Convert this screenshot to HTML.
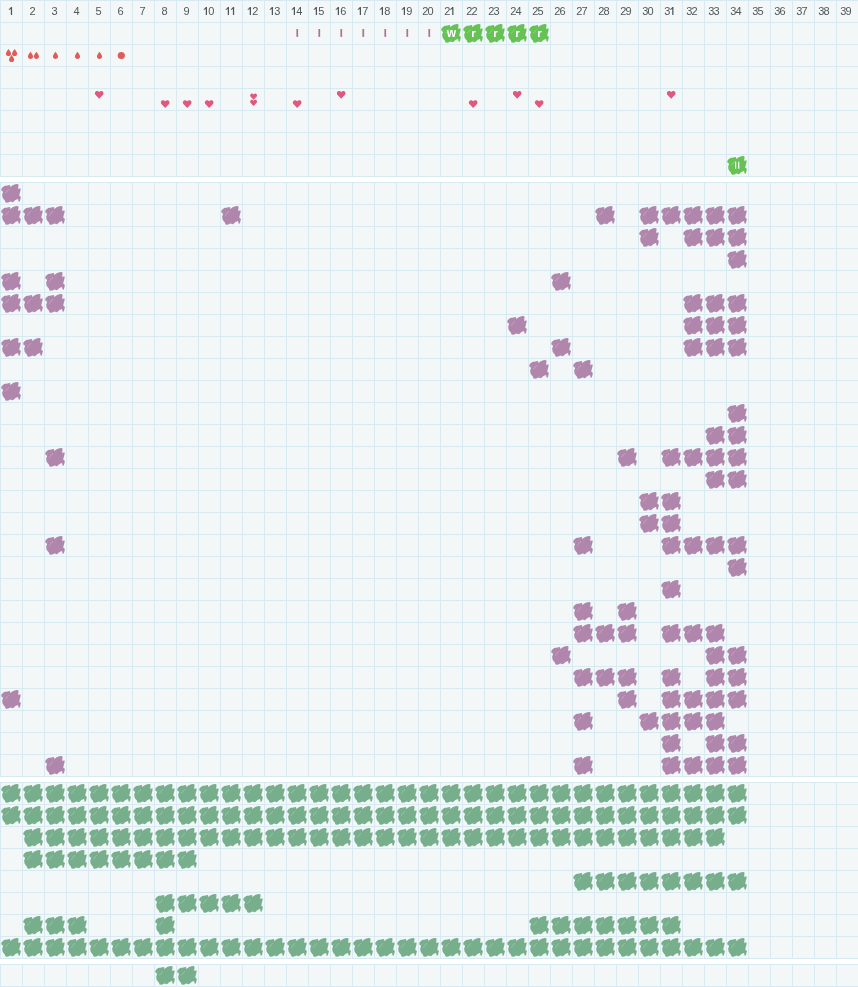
<!DOCTYPE html>
<html><head><meta charset="utf-8"><title>grid</title>
<style>
html,body{margin:0;padding:0;background:#fff;width:858px;height:987px;overflow:hidden;font-family:"Liberation Sans",sans-serif;}
</style></head><body>
<svg width="858" height="987" viewBox="0 0 858 987" style="display:block;will-change:transform"><defs><symbol id="b" viewBox="0 0 858 858"><path d="M50,290 L60,250 L90,215 L130,185 L160,160 L200,150 L240,150 L290,140 L330,125 L370,120 L395,130 L405,205 L430,180 L480,140 L540,110 L600,90 L660,80 L715,85 L722,130 L715,200 L700,250 L740,262 L790,240 L805,262 L800,330 L780,400 L760,480 L752,540 L800,570 L815,600 L800,640 L790,700 L770,762 L740,772 L720,750 L715,700 L700,662 L650,680 L600,700 L560,740 L520,780 L470,790 L430,762 L380,772 L330,800 L260,812 L220,800 L200,760 L190,720 L160,690 L130,650 L100,600 L90,540 L85,480 L110,430 L120,390 L95,362 L60,340 L48,300 Z"/><path d="M200,455 L345,282" stroke="#fff" stroke-opacity=".5" stroke-width="20" fill="none"/><path d="M122,350 L152,305" stroke="#fff" stroke-opacity=".35" stroke-width="18" fill="none"/><path d="M425,742 L462,700" stroke="#fff" stroke-opacity=".2" stroke-width="16" fill="none"/></symbol></defs><rect width="858" height="987" fill="#fff"/><rect x="0" y="0" width="858" height="177" fill="#f4f7f8"/><rect x="0" y="0" width="858" height="1" fill="#d7e9f1"/><rect x="0" y="22" width="858" height="1" fill="#d7e9f1"/><rect x="0" y="44" width="858" height="1" fill="#d7e9f1"/><rect x="0" y="66" width="858" height="1" fill="#d7e9f1"/><rect x="0" y="88" width="858" height="1" fill="#d7e9f1"/><rect x="0" y="110" width="858" height="1" fill="#d7e9f1"/><rect x="0" y="132" width="858" height="1" fill="#d7e9f1"/><rect x="0" y="154" width="858" height="1" fill="#d7e9f1"/><rect x="0" y="176" width="858" height="1" fill="#d7e9f1"/><rect x="0" y="0" width="1" height="177" fill="#d7e9f1"/><rect x="22" y="0" width="1" height="177" fill="#d7e9f1"/><rect x="44" y="0" width="1" height="177" fill="#d7e9f1"/><rect x="66" y="0" width="1" height="177" fill="#d7e9f1"/><rect x="88" y="0" width="1" height="177" fill="#d7e9f1"/><rect x="110" y="0" width="1" height="177" fill="#d7e9f1"/><rect x="132" y="0" width="1" height="177" fill="#d7e9f1"/><rect x="154" y="0" width="1" height="177" fill="#d7e9f1"/><rect x="176" y="0" width="1" height="177" fill="#d7e9f1"/><rect x="198" y="0" width="1" height="177" fill="#d7e9f1"/><rect x="220" y="0" width="1" height="177" fill="#d7e9f1"/><rect x="242" y="0" width="1" height="177" fill="#d7e9f1"/><rect x="264" y="0" width="1" height="177" fill="#d7e9f1"/><rect x="286" y="0" width="1" height="177" fill="#d7e9f1"/><rect x="308" y="0" width="1" height="177" fill="#d7e9f1"/><rect x="330" y="0" width="1" height="177" fill="#d7e9f1"/><rect x="352" y="0" width="1" height="177" fill="#d7e9f1"/><rect x="374" y="0" width="1" height="177" fill="#d7e9f1"/><rect x="396" y="0" width="1" height="177" fill="#d7e9f1"/><rect x="418" y="0" width="1" height="177" fill="#d7e9f1"/><rect x="440" y="0" width="1" height="177" fill="#d7e9f1"/><rect x="462" y="0" width="1" height="177" fill="#d7e9f1"/><rect x="484" y="0" width="1" height="177" fill="#d7e9f1"/><rect x="506" y="0" width="1" height="177" fill="#d7e9f1"/><rect x="528" y="0" width="1" height="177" fill="#d7e9f1"/><rect x="550" y="0" width="1" height="177" fill="#d7e9f1"/><rect x="572" y="0" width="1" height="177" fill="#d7e9f1"/><rect x="594" y="0" width="1" height="177" fill="#d7e9f1"/><rect x="616" y="0" width="1" height="177" fill="#d7e9f1"/><rect x="638" y="0" width="1" height="177" fill="#d7e9f1"/><rect x="660" y="0" width="1" height="177" fill="#d7e9f1"/><rect x="682" y="0" width="1" height="177" fill="#d7e9f1"/><rect x="704" y="0" width="1" height="177" fill="#d7e9f1"/><rect x="726" y="0" width="1" height="177" fill="#d7e9f1"/><rect x="748" y="0" width="1" height="177" fill="#d7e9f1"/><rect x="770" y="0" width="1" height="177" fill="#d7e9f1"/><rect x="792" y="0" width="1" height="177" fill="#d7e9f1"/><rect x="814" y="0" width="1" height="177" fill="#d7e9f1"/><rect x="836" y="0" width="1" height="177" fill="#d7e9f1"/><rect x="0" y="182" width="858" height="595" fill="#f4f7f8"/><rect x="0" y="182" width="858" height="1" fill="#d7e9f1"/><rect x="0" y="204" width="858" height="1" fill="#d7e9f1"/><rect x="0" y="226" width="858" height="1" fill="#d7e9f1"/><rect x="0" y="248" width="858" height="1" fill="#d7e9f1"/><rect x="0" y="270" width="858" height="1" fill="#d7e9f1"/><rect x="0" y="292" width="858" height="1" fill="#d7e9f1"/><rect x="0" y="314" width="858" height="1" fill="#d7e9f1"/><rect x="0" y="336" width="858" height="1" fill="#d7e9f1"/><rect x="0" y="358" width="858" height="1" fill="#d7e9f1"/><rect x="0" y="380" width="858" height="1" fill="#d7e9f1"/><rect x="0" y="402" width="858" height="1" fill="#d7e9f1"/><rect x="0" y="424" width="858" height="1" fill="#d7e9f1"/><rect x="0" y="446" width="858" height="1" fill="#d7e9f1"/><rect x="0" y="468" width="858" height="1" fill="#d7e9f1"/><rect x="0" y="490" width="858" height="1" fill="#d7e9f1"/><rect x="0" y="512" width="858" height="1" fill="#d7e9f1"/><rect x="0" y="534" width="858" height="1" fill="#d7e9f1"/><rect x="0" y="556" width="858" height="1" fill="#d7e9f1"/><rect x="0" y="578" width="858" height="1" fill="#d7e9f1"/><rect x="0" y="600" width="858" height="1" fill="#d7e9f1"/><rect x="0" y="622" width="858" height="1" fill="#d7e9f1"/><rect x="0" y="644" width="858" height="1" fill="#d7e9f1"/><rect x="0" y="666" width="858" height="1" fill="#d7e9f1"/><rect x="0" y="688" width="858" height="1" fill="#d7e9f1"/><rect x="0" y="710" width="858" height="1" fill="#d7e9f1"/><rect x="0" y="732" width="858" height="1" fill="#d7e9f1"/><rect x="0" y="754" width="858" height="1" fill="#d7e9f1"/><rect x="0" y="776" width="858" height="1" fill="#d7e9f1"/><rect x="0" y="182" width="1" height="595" fill="#d7e9f1"/><rect x="22" y="182" width="1" height="595" fill="#d7e9f1"/><rect x="44" y="182" width="1" height="595" fill="#d7e9f1"/><rect x="66" y="182" width="1" height="595" fill="#d7e9f1"/><rect x="88" y="182" width="1" height="595" fill="#d7e9f1"/><rect x="110" y="182" width="1" height="595" fill="#d7e9f1"/><rect x="132" y="182" width="1" height="595" fill="#d7e9f1"/><rect x="154" y="182" width="1" height="595" fill="#d7e9f1"/><rect x="176" y="182" width="1" height="595" fill="#d7e9f1"/><rect x="198" y="182" width="1" height="595" fill="#d7e9f1"/><rect x="220" y="182" width="1" height="595" fill="#d7e9f1"/><rect x="242" y="182" width="1" height="595" fill="#d7e9f1"/><rect x="264" y="182" width="1" height="595" fill="#d7e9f1"/><rect x="286" y="182" width="1" height="595" fill="#d7e9f1"/><rect x="308" y="182" width="1" height="595" fill="#d7e9f1"/><rect x="330" y="182" width="1" height="595" fill="#d7e9f1"/><rect x="352" y="182" width="1" height="595" fill="#d7e9f1"/><rect x="374" y="182" width="1" height="595" fill="#d7e9f1"/><rect x="396" y="182" width="1" height="595" fill="#d7e9f1"/><rect x="418" y="182" width="1" height="595" fill="#d7e9f1"/><rect x="440" y="182" width="1" height="595" fill="#d7e9f1"/><rect x="462" y="182" width="1" height="595" fill="#d7e9f1"/><rect x="484" y="182" width="1" height="595" fill="#d7e9f1"/><rect x="506" y="182" width="1" height="595" fill="#d7e9f1"/><rect x="528" y="182" width="1" height="595" fill="#d7e9f1"/><rect x="550" y="182" width="1" height="595" fill="#d7e9f1"/><rect x="572" y="182" width="1" height="595" fill="#d7e9f1"/><rect x="594" y="182" width="1" height="595" fill="#d7e9f1"/><rect x="616" y="182" width="1" height="595" fill="#d7e9f1"/><rect x="638" y="182" width="1" height="595" fill="#d7e9f1"/><rect x="660" y="182" width="1" height="595" fill="#d7e9f1"/><rect x="682" y="182" width="1" height="595" fill="#d7e9f1"/><rect x="704" y="182" width="1" height="595" fill="#d7e9f1"/><rect x="726" y="182" width="1" height="595" fill="#d7e9f1"/><rect x="748" y="182" width="1" height="595" fill="#d7e9f1"/><rect x="770" y="182" width="1" height="595" fill="#d7e9f1"/><rect x="792" y="182" width="1" height="595" fill="#d7e9f1"/><rect x="814" y="182" width="1" height="595" fill="#d7e9f1"/><rect x="836" y="182" width="1" height="595" fill="#d7e9f1"/><rect x="0" y="782" width="858" height="177" fill="#f4f7f8"/><rect x="0" y="782" width="858" height="1" fill="#d7e9f1"/><rect x="0" y="804" width="858" height="1" fill="#d7e9f1"/><rect x="0" y="826" width="858" height="1" fill="#d7e9f1"/><rect x="0" y="848" width="858" height="1" fill="#d7e9f1"/><rect x="0" y="870" width="858" height="1" fill="#d7e9f1"/><rect x="0" y="892" width="858" height="1" fill="#d7e9f1"/><rect x="0" y="914" width="858" height="1" fill="#d7e9f1"/><rect x="0" y="936" width="858" height="1" fill="#d7e9f1"/><rect x="0" y="958" width="858" height="1" fill="#d7e9f1"/><rect x="0" y="782" width="1" height="177" fill="#d7e9f1"/><rect x="22" y="782" width="1" height="177" fill="#d7e9f1"/><rect x="44" y="782" width="1" height="177" fill="#d7e9f1"/><rect x="66" y="782" width="1" height="177" fill="#d7e9f1"/><rect x="88" y="782" width="1" height="177" fill="#d7e9f1"/><rect x="110" y="782" width="1" height="177" fill="#d7e9f1"/><rect x="132" y="782" width="1" height="177" fill="#d7e9f1"/><rect x="154" y="782" width="1" height="177" fill="#d7e9f1"/><rect x="176" y="782" width="1" height="177" fill="#d7e9f1"/><rect x="198" y="782" width="1" height="177" fill="#d7e9f1"/><rect x="220" y="782" width="1" height="177" fill="#d7e9f1"/><rect x="242" y="782" width="1" height="177" fill="#d7e9f1"/><rect x="264" y="782" width="1" height="177" fill="#d7e9f1"/><rect x="286" y="782" width="1" height="177" fill="#d7e9f1"/><rect x="308" y="782" width="1" height="177" fill="#d7e9f1"/><rect x="330" y="782" width="1" height="177" fill="#d7e9f1"/><rect x="352" y="782" width="1" height="177" fill="#d7e9f1"/><rect x="374" y="782" width="1" height="177" fill="#d7e9f1"/><rect x="396" y="782" width="1" height="177" fill="#d7e9f1"/><rect x="418" y="782" width="1" height="177" fill="#d7e9f1"/><rect x="440" y="782" width="1" height="177" fill="#d7e9f1"/><rect x="462" y="782" width="1" height="177" fill="#d7e9f1"/><rect x="484" y="782" width="1" height="177" fill="#d7e9f1"/><rect x="506" y="782" width="1" height="177" fill="#d7e9f1"/><rect x="528" y="782" width="1" height="177" fill="#d7e9f1"/><rect x="550" y="782" width="1" height="177" fill="#d7e9f1"/><rect x="572" y="782" width="1" height="177" fill="#d7e9f1"/><rect x="594" y="782" width="1" height="177" fill="#d7e9f1"/><rect x="616" y="782" width="1" height="177" fill="#d7e9f1"/><rect x="638" y="782" width="1" height="177" fill="#d7e9f1"/><rect x="660" y="782" width="1" height="177" fill="#d7e9f1"/><rect x="682" y="782" width="1" height="177" fill="#d7e9f1"/><rect x="704" y="782" width="1" height="177" fill="#d7e9f1"/><rect x="726" y="782" width="1" height="177" fill="#d7e9f1"/><rect x="748" y="782" width="1" height="177" fill="#d7e9f1"/><rect x="770" y="782" width="1" height="177" fill="#d7e9f1"/><rect x="792" y="782" width="1" height="177" fill="#d7e9f1"/><rect x="814" y="782" width="1" height="177" fill="#d7e9f1"/><rect x="836" y="782" width="1" height="177" fill="#d7e9f1"/><rect x="0" y="964" width="858" height="23" fill="#f4f7f8"/><rect x="0" y="964" width="858" height="1" fill="#d7e9f1"/><rect x="0" y="986" width="858" height="1" fill="#d7e9f1"/><rect x="0" y="964" width="1" height="23" fill="#d7e9f1"/><rect x="22" y="964" width="1" height="23" fill="#d7e9f1"/><rect x="44" y="964" width="1" height="23" fill="#d7e9f1"/><rect x="66" y="964" width="1" height="23" fill="#d7e9f1"/><rect x="88" y="964" width="1" height="23" fill="#d7e9f1"/><rect x="110" y="964" width="1" height="23" fill="#d7e9f1"/><rect x="132" y="964" width="1" height="23" fill="#d7e9f1"/><rect x="154" y="964" width="1" height="23" fill="#d7e9f1"/><rect x="176" y="964" width="1" height="23" fill="#d7e9f1"/><rect x="198" y="964" width="1" height="23" fill="#d7e9f1"/><rect x="220" y="964" width="1" height="23" fill="#d7e9f1"/><rect x="242" y="964" width="1" height="23" fill="#d7e9f1"/><rect x="264" y="964" width="1" height="23" fill="#d7e9f1"/><rect x="286" y="964" width="1" height="23" fill="#d7e9f1"/><rect x="308" y="964" width="1" height="23" fill="#d7e9f1"/><rect x="330" y="964" width="1" height="23" fill="#d7e9f1"/><rect x="352" y="964" width="1" height="23" fill="#d7e9f1"/><rect x="374" y="964" width="1" height="23" fill="#d7e9f1"/><rect x="396" y="964" width="1" height="23" fill="#d7e9f1"/><rect x="418" y="964" width="1" height="23" fill="#d7e9f1"/><rect x="440" y="964" width="1" height="23" fill="#d7e9f1"/><rect x="462" y="964" width="1" height="23" fill="#d7e9f1"/><rect x="484" y="964" width="1" height="23" fill="#d7e9f1"/><rect x="506" y="964" width="1" height="23" fill="#d7e9f1"/><rect x="528" y="964" width="1" height="23" fill="#d7e9f1"/><rect x="550" y="964" width="1" height="23" fill="#d7e9f1"/><rect x="572" y="964" width="1" height="23" fill="#d7e9f1"/><rect x="594" y="964" width="1" height="23" fill="#d7e9f1"/><rect x="616" y="964" width="1" height="23" fill="#d7e9f1"/><rect x="638" y="964" width="1" height="23" fill="#d7e9f1"/><rect x="660" y="964" width="1" height="23" fill="#d7e9f1"/><rect x="682" y="964" width="1" height="23" fill="#d7e9f1"/><rect x="704" y="964" width="1" height="23" fill="#d7e9f1"/><rect x="726" y="964" width="1" height="23" fill="#d7e9f1"/><rect x="748" y="964" width="1" height="23" fill="#d7e9f1"/><rect x="770" y="964" width="1" height="23" fill="#d7e9f1"/><rect x="792" y="964" width="1" height="23" fill="#d7e9f1"/><rect x="814" y="964" width="1" height="23" fill="#d7e9f1"/><rect x="836" y="964" width="1" height="23" fill="#d7e9f1"/><use href="#b" x="0" y="182" width="22" height="22" fill="#b086ac"/><use href="#b" x="0" y="204" width="22" height="22" fill="#b086ac"/><use href="#b" x="22" y="204" width="22" height="22" fill="#b086ac"/><use href="#b" x="44" y="204" width="22" height="22" fill="#b086ac"/><use href="#b" x="220" y="204" width="22" height="22" fill="#b086ac"/><use href="#b" x="594" y="204" width="22" height="22" fill="#b086ac"/><use href="#b" x="638" y="204" width="22" height="22" fill="#b086ac"/><use href="#b" x="660" y="204" width="22" height="22" fill="#b086ac"/><use href="#b" x="682" y="204" width="22" height="22" fill="#b086ac"/><use href="#b" x="704" y="204" width="22" height="22" fill="#b086ac"/><use href="#b" x="726" y="204" width="22" height="22" fill="#b086ac"/><use href="#b" x="638" y="226" width="22" height="22" fill="#b086ac"/><use href="#b" x="682" y="226" width="22" height="22" fill="#b086ac"/><use href="#b" x="704" y="226" width="22" height="22" fill="#b086ac"/><use href="#b" x="726" y="226" width="22" height="22" fill="#b086ac"/><use href="#b" x="726" y="248" width="22" height="22" fill="#b086ac"/><use href="#b" x="0" y="270" width="22" height="22" fill="#b086ac"/><use href="#b" x="44" y="270" width="22" height="22" fill="#b086ac"/><use href="#b" x="550" y="270" width="22" height="22" fill="#b086ac"/><use href="#b" x="0" y="292" width="22" height="22" fill="#b086ac"/><use href="#b" x="22" y="292" width="22" height="22" fill="#b086ac"/><use href="#b" x="44" y="292" width="22" height="22" fill="#b086ac"/><use href="#b" x="682" y="292" width="22" height="22" fill="#b086ac"/><use href="#b" x="704" y="292" width="22" height="22" fill="#b086ac"/><use href="#b" x="726" y="292" width="22" height="22" fill="#b086ac"/><use href="#b" x="506" y="314" width="22" height="22" fill="#b086ac"/><use href="#b" x="682" y="314" width="22" height="22" fill="#b086ac"/><use href="#b" x="704" y="314" width="22" height="22" fill="#b086ac"/><use href="#b" x="726" y="314" width="22" height="22" fill="#b086ac"/><use href="#b" x="0" y="336" width="22" height="22" fill="#b086ac"/><use href="#b" x="22" y="336" width="22" height="22" fill="#b086ac"/><use href="#b" x="550" y="336" width="22" height="22" fill="#b086ac"/><use href="#b" x="682" y="336" width="22" height="22" fill="#b086ac"/><use href="#b" x="704" y="336" width="22" height="22" fill="#b086ac"/><use href="#b" x="726" y="336" width="22" height="22" fill="#b086ac"/><use href="#b" x="528" y="358" width="22" height="22" fill="#b086ac"/><use href="#b" x="572" y="358" width="22" height="22" fill="#b086ac"/><use href="#b" x="0" y="380" width="22" height="22" fill="#b086ac"/><use href="#b" x="726" y="402" width="22" height="22" fill="#b086ac"/><use href="#b" x="704" y="424" width="22" height="22" fill="#b086ac"/><use href="#b" x="726" y="424" width="22" height="22" fill="#b086ac"/><use href="#b" x="44" y="446" width="22" height="22" fill="#b086ac"/><use href="#b" x="616" y="446" width="22" height="22" fill="#b086ac"/><use href="#b" x="660" y="446" width="22" height="22" fill="#b086ac"/><use href="#b" x="682" y="446" width="22" height="22" fill="#b086ac"/><use href="#b" x="704" y="446" width="22" height="22" fill="#b086ac"/><use href="#b" x="726" y="446" width="22" height="22" fill="#b086ac"/><use href="#b" x="704" y="468" width="22" height="22" fill="#b086ac"/><use href="#b" x="726" y="468" width="22" height="22" fill="#b086ac"/><use href="#b" x="638" y="490" width="22" height="22" fill="#b086ac"/><use href="#b" x="660" y="490" width="22" height="22" fill="#b086ac"/><use href="#b" x="638" y="512" width="22" height="22" fill="#b086ac"/><use href="#b" x="660" y="512" width="22" height="22" fill="#b086ac"/><use href="#b" x="44" y="534" width="22" height="22" fill="#b086ac"/><use href="#b" x="572" y="534" width="22" height="22" fill="#b086ac"/><use href="#b" x="660" y="534" width="22" height="22" fill="#b086ac"/><use href="#b" x="682" y="534" width="22" height="22" fill="#b086ac"/><use href="#b" x="704" y="534" width="22" height="22" fill="#b086ac"/><use href="#b" x="726" y="534" width="22" height="22" fill="#b086ac"/><use href="#b" x="726" y="556" width="22" height="22" fill="#b086ac"/><use href="#b" x="660" y="578" width="22" height="22" fill="#b086ac"/><use href="#b" x="572" y="600" width="22" height="22" fill="#b086ac"/><use href="#b" x="616" y="600" width="22" height="22" fill="#b086ac"/><use href="#b" x="572" y="622" width="22" height="22" fill="#b086ac"/><use href="#b" x="594" y="622" width="22" height="22" fill="#b086ac"/><use href="#b" x="616" y="622" width="22" height="22" fill="#b086ac"/><use href="#b" x="660" y="622" width="22" height="22" fill="#b086ac"/><use href="#b" x="682" y="622" width="22" height="22" fill="#b086ac"/><use href="#b" x="704" y="622" width="22" height="22" fill="#b086ac"/><use href="#b" x="550" y="644" width="22" height="22" fill="#b086ac"/><use href="#b" x="704" y="644" width="22" height="22" fill="#b086ac"/><use href="#b" x="726" y="644" width="22" height="22" fill="#b086ac"/><use href="#b" x="572" y="666" width="22" height="22" fill="#b086ac"/><use href="#b" x="594" y="666" width="22" height="22" fill="#b086ac"/><use href="#b" x="616" y="666" width="22" height="22" fill="#b086ac"/><use href="#b" x="660" y="666" width="22" height="22" fill="#b086ac"/><use href="#b" x="704" y="666" width="22" height="22" fill="#b086ac"/><use href="#b" x="726" y="666" width="22" height="22" fill="#b086ac"/><use href="#b" x="0" y="688" width="22" height="22" fill="#b086ac"/><use href="#b" x="616" y="688" width="22" height="22" fill="#b086ac"/><use href="#b" x="660" y="688" width="22" height="22" fill="#b086ac"/><use href="#b" x="682" y="688" width="22" height="22" fill="#b086ac"/><use href="#b" x="704" y="688" width="22" height="22" fill="#b086ac"/><use href="#b" x="726" y="688" width="22" height="22" fill="#b086ac"/><use href="#b" x="572" y="710" width="22" height="22" fill="#b086ac"/><use href="#b" x="638" y="710" width="22" height="22" fill="#b086ac"/><use href="#b" x="660" y="710" width="22" height="22" fill="#b086ac"/><use href="#b" x="682" y="710" width="22" height="22" fill="#b086ac"/><use href="#b" x="704" y="710" width="22" height="22" fill="#b086ac"/><use href="#b" x="660" y="732" width="22" height="22" fill="#b086ac"/><use href="#b" x="704" y="732" width="22" height="22" fill="#b086ac"/><use href="#b" x="726" y="732" width="22" height="22" fill="#b086ac"/><use href="#b" x="44" y="754" width="22" height="22" fill="#b086ac"/><use href="#b" x="572" y="754" width="22" height="22" fill="#b086ac"/><use href="#b" x="660" y="754" width="22" height="22" fill="#b086ac"/><use href="#b" x="682" y="754" width="22" height="22" fill="#b086ac"/><use href="#b" x="704" y="754" width="22" height="22" fill="#b086ac"/><use href="#b" x="726" y="754" width="22" height="22" fill="#b086ac"/><use href="#b" x="0" y="782" width="22" height="22" fill="#77ae8c"/><use href="#b" x="22" y="782" width="22" height="22" fill="#77ae8c"/><use href="#b" x="44" y="782" width="22" height="22" fill="#77ae8c"/><use href="#b" x="66" y="782" width="22" height="22" fill="#77ae8c"/><use href="#b" x="88" y="782" width="22" height="22" fill="#77ae8c"/><use href="#b" x="110" y="782" width="22" height="22" fill="#77ae8c"/><use href="#b" x="132" y="782" width="22" height="22" fill="#77ae8c"/><use href="#b" x="154" y="782" width="22" height="22" fill="#77ae8c"/><use href="#b" x="176" y="782" width="22" height="22" fill="#77ae8c"/><use href="#b" x="198" y="782" width="22" height="22" fill="#77ae8c"/><use href="#b" x="220" y="782" width="22" height="22" fill="#77ae8c"/><use href="#b" x="242" y="782" width="22" height="22" fill="#77ae8c"/><use href="#b" x="264" y="782" width="22" height="22" fill="#77ae8c"/><use href="#b" x="286" y="782" width="22" height="22" fill="#77ae8c"/><use href="#b" x="308" y="782" width="22" height="22" fill="#77ae8c"/><use href="#b" x="330" y="782" width="22" height="22" fill="#77ae8c"/><use href="#b" x="352" y="782" width="22" height="22" fill="#77ae8c"/><use href="#b" x="374" y="782" width="22" height="22" fill="#77ae8c"/><use href="#b" x="396" y="782" width="22" height="22" fill="#77ae8c"/><use href="#b" x="418" y="782" width="22" height="22" fill="#77ae8c"/><use href="#b" x="440" y="782" width="22" height="22" fill="#77ae8c"/><use href="#b" x="462" y="782" width="22" height="22" fill="#77ae8c"/><use href="#b" x="484" y="782" width="22" height="22" fill="#77ae8c"/><use href="#b" x="506" y="782" width="22" height="22" fill="#77ae8c"/><use href="#b" x="528" y="782" width="22" height="22" fill="#77ae8c"/><use href="#b" x="550" y="782" width="22" height="22" fill="#77ae8c"/><use href="#b" x="572" y="782" width="22" height="22" fill="#77ae8c"/><use href="#b" x="594" y="782" width="22" height="22" fill="#77ae8c"/><use href="#b" x="616" y="782" width="22" height="22" fill="#77ae8c"/><use href="#b" x="638" y="782" width="22" height="22" fill="#77ae8c"/><use href="#b" x="660" y="782" width="22" height="22" fill="#77ae8c"/><use href="#b" x="682" y="782" width="22" height="22" fill="#77ae8c"/><use href="#b" x="704" y="782" width="22" height="22" fill="#77ae8c"/><use href="#b" x="726" y="782" width="22" height="22" fill="#77ae8c"/><use href="#b" x="0" y="804" width="22" height="22" fill="#77ae8c"/><use href="#b" x="22" y="804" width="22" height="22" fill="#77ae8c"/><use href="#b" x="44" y="804" width="22" height="22" fill="#77ae8c"/><use href="#b" x="66" y="804" width="22" height="22" fill="#77ae8c"/><use href="#b" x="88" y="804" width="22" height="22" fill="#77ae8c"/><use href="#b" x="110" y="804" width="22" height="22" fill="#77ae8c"/><use href="#b" x="132" y="804" width="22" height="22" fill="#77ae8c"/><use href="#b" x="154" y="804" width="22" height="22" fill="#77ae8c"/><use href="#b" x="176" y="804" width="22" height="22" fill="#77ae8c"/><use href="#b" x="198" y="804" width="22" height="22" fill="#77ae8c"/><use href="#b" x="220" y="804" width="22" height="22" fill="#77ae8c"/><use href="#b" x="242" y="804" width="22" height="22" fill="#77ae8c"/><use href="#b" x="264" y="804" width="22" height="22" fill="#77ae8c"/><use href="#b" x="286" y="804" width="22" height="22" fill="#77ae8c"/><use href="#b" x="308" y="804" width="22" height="22" fill="#77ae8c"/><use href="#b" x="330" y="804" width="22" height="22" fill="#77ae8c"/><use href="#b" x="352" y="804" width="22" height="22" fill="#77ae8c"/><use href="#b" x="374" y="804" width="22" height="22" fill="#77ae8c"/><use href="#b" x="396" y="804" width="22" height="22" fill="#77ae8c"/><use href="#b" x="418" y="804" width="22" height="22" fill="#77ae8c"/><use href="#b" x="440" y="804" width="22" height="22" fill="#77ae8c"/><use href="#b" x="462" y="804" width="22" height="22" fill="#77ae8c"/><use href="#b" x="484" y="804" width="22" height="22" fill="#77ae8c"/><use href="#b" x="506" y="804" width="22" height="22" fill="#77ae8c"/><use href="#b" x="528" y="804" width="22" height="22" fill="#77ae8c"/><use href="#b" x="550" y="804" width="22" height="22" fill="#77ae8c"/><use href="#b" x="572" y="804" width="22" height="22" fill="#77ae8c"/><use href="#b" x="594" y="804" width="22" height="22" fill="#77ae8c"/><use href="#b" x="616" y="804" width="22" height="22" fill="#77ae8c"/><use href="#b" x="638" y="804" width="22" height="22" fill="#77ae8c"/><use href="#b" x="660" y="804" width="22" height="22" fill="#77ae8c"/><use href="#b" x="682" y="804" width="22" height="22" fill="#77ae8c"/><use href="#b" x="704" y="804" width="22" height="22" fill="#77ae8c"/><use href="#b" x="726" y="804" width="22" height="22" fill="#77ae8c"/><use href="#b" x="22" y="826" width="22" height="22" fill="#77ae8c"/><use href="#b" x="44" y="826" width="22" height="22" fill="#77ae8c"/><use href="#b" x="66" y="826" width="22" height="22" fill="#77ae8c"/><use href="#b" x="88" y="826" width="22" height="22" fill="#77ae8c"/><use href="#b" x="110" y="826" width="22" height="22" fill="#77ae8c"/><use href="#b" x="132" y="826" width="22" height="22" fill="#77ae8c"/><use href="#b" x="154" y="826" width="22" height="22" fill="#77ae8c"/><use href="#b" x="176" y="826" width="22" height="22" fill="#77ae8c"/><use href="#b" x="198" y="826" width="22" height="22" fill="#77ae8c"/><use href="#b" x="220" y="826" width="22" height="22" fill="#77ae8c"/><use href="#b" x="242" y="826" width="22" height="22" fill="#77ae8c"/><use href="#b" x="264" y="826" width="22" height="22" fill="#77ae8c"/><use href="#b" x="286" y="826" width="22" height="22" fill="#77ae8c"/><use href="#b" x="308" y="826" width="22" height="22" fill="#77ae8c"/><use href="#b" x="330" y="826" width="22" height="22" fill="#77ae8c"/><use href="#b" x="352" y="826" width="22" height="22" fill="#77ae8c"/><use href="#b" x="374" y="826" width="22" height="22" fill="#77ae8c"/><use href="#b" x="396" y="826" width="22" height="22" fill="#77ae8c"/><use href="#b" x="418" y="826" width="22" height="22" fill="#77ae8c"/><use href="#b" x="440" y="826" width="22" height="22" fill="#77ae8c"/><use href="#b" x="462" y="826" width="22" height="22" fill="#77ae8c"/><use href="#b" x="484" y="826" width="22" height="22" fill="#77ae8c"/><use href="#b" x="506" y="826" width="22" height="22" fill="#77ae8c"/><use href="#b" x="528" y="826" width="22" height="22" fill="#77ae8c"/><use href="#b" x="550" y="826" width="22" height="22" fill="#77ae8c"/><use href="#b" x="572" y="826" width="22" height="22" fill="#77ae8c"/><use href="#b" x="594" y="826" width="22" height="22" fill="#77ae8c"/><use href="#b" x="616" y="826" width="22" height="22" fill="#77ae8c"/><use href="#b" x="638" y="826" width="22" height="22" fill="#77ae8c"/><use href="#b" x="660" y="826" width="22" height="22" fill="#77ae8c"/><use href="#b" x="682" y="826" width="22" height="22" fill="#77ae8c"/><use href="#b" x="704" y="826" width="22" height="22" fill="#77ae8c"/><use href="#b" x="22" y="848" width="22" height="22" fill="#77ae8c"/><use href="#b" x="44" y="848" width="22" height="22" fill="#77ae8c"/><use href="#b" x="66" y="848" width="22" height="22" fill="#77ae8c"/><use href="#b" x="88" y="848" width="22" height="22" fill="#77ae8c"/><use href="#b" x="110" y="848" width="22" height="22" fill="#77ae8c"/><use href="#b" x="132" y="848" width="22" height="22" fill="#77ae8c"/><use href="#b" x="154" y="848" width="22" height="22" fill="#77ae8c"/><use href="#b" x="176" y="848" width="22" height="22" fill="#77ae8c"/><use href="#b" x="572" y="870" width="22" height="22" fill="#77ae8c"/><use href="#b" x="594" y="870" width="22" height="22" fill="#77ae8c"/><use href="#b" x="616" y="870" width="22" height="22" fill="#77ae8c"/><use href="#b" x="638" y="870" width="22" height="22" fill="#77ae8c"/><use href="#b" x="660" y="870" width="22" height="22" fill="#77ae8c"/><use href="#b" x="682" y="870" width="22" height="22" fill="#77ae8c"/><use href="#b" x="704" y="870" width="22" height="22" fill="#77ae8c"/><use href="#b" x="726" y="870" width="22" height="22" fill="#77ae8c"/><use href="#b" x="154" y="892" width="22" height="22" fill="#77ae8c"/><use href="#b" x="176" y="892" width="22" height="22" fill="#77ae8c"/><use href="#b" x="198" y="892" width="22" height="22" fill="#77ae8c"/><use href="#b" x="220" y="892" width="22" height="22" fill="#77ae8c"/><use href="#b" x="242" y="892" width="22" height="22" fill="#77ae8c"/><use href="#b" x="22" y="914" width="22" height="22" fill="#77ae8c"/><use href="#b" x="44" y="914" width="22" height="22" fill="#77ae8c"/><use href="#b" x="66" y="914" width="22" height="22" fill="#77ae8c"/><use href="#b" x="154" y="914" width="22" height="22" fill="#77ae8c"/><use href="#b" x="528" y="914" width="22" height="22" fill="#77ae8c"/><use href="#b" x="550" y="914" width="22" height="22" fill="#77ae8c"/><use href="#b" x="572" y="914" width="22" height="22" fill="#77ae8c"/><use href="#b" x="594" y="914" width="22" height="22" fill="#77ae8c"/><use href="#b" x="616" y="914" width="22" height="22" fill="#77ae8c"/><use href="#b" x="638" y="914" width="22" height="22" fill="#77ae8c"/><use href="#b" x="660" y="914" width="22" height="22" fill="#77ae8c"/><use href="#b" x="0" y="936" width="22" height="22" fill="#77ae8c"/><use href="#b" x="22" y="936" width="22" height="22" fill="#77ae8c"/><use href="#b" x="44" y="936" width="22" height="22" fill="#77ae8c"/><use href="#b" x="66" y="936" width="22" height="22" fill="#77ae8c"/><use href="#b" x="88" y="936" width="22" height="22" fill="#77ae8c"/><use href="#b" x="110" y="936" width="22" height="22" fill="#77ae8c"/><use href="#b" x="132" y="936" width="22" height="22" fill="#77ae8c"/><use href="#b" x="154" y="936" width="22" height="22" fill="#77ae8c"/><use href="#b" x="176" y="936" width="22" height="22" fill="#77ae8c"/><use href="#b" x="198" y="936" width="22" height="22" fill="#77ae8c"/><use href="#b" x="220" y="936" width="22" height="22" fill="#77ae8c"/><use href="#b" x="242" y="936" width="22" height="22" fill="#77ae8c"/><use href="#b" x="264" y="936" width="22" height="22" fill="#77ae8c"/><use href="#b" x="286" y="936" width="22" height="22" fill="#77ae8c"/><use href="#b" x="308" y="936" width="22" height="22" fill="#77ae8c"/><use href="#b" x="330" y="936" width="22" height="22" fill="#77ae8c"/><use href="#b" x="352" y="936" width="22" height="22" fill="#77ae8c"/><use href="#b" x="374" y="936" width="22" height="22" fill="#77ae8c"/><use href="#b" x="396" y="936" width="22" height="22" fill="#77ae8c"/><use href="#b" x="418" y="936" width="22" height="22" fill="#77ae8c"/><use href="#b" x="440" y="936" width="22" height="22" fill="#77ae8c"/><use href="#b" x="462" y="936" width="22" height="22" fill="#77ae8c"/><use href="#b" x="484" y="936" width="22" height="22" fill="#77ae8c"/><use href="#b" x="506" y="936" width="22" height="22" fill="#77ae8c"/><use href="#b" x="528" y="936" width="22" height="22" fill="#77ae8c"/><use href="#b" x="550" y="936" width="22" height="22" fill="#77ae8c"/><use href="#b" x="572" y="936" width="22" height="22" fill="#77ae8c"/><use href="#b" x="594" y="936" width="22" height="22" fill="#77ae8c"/><use href="#b" x="616" y="936" width="22" height="22" fill="#77ae8c"/><use href="#b" x="638" y="936" width="22" height="22" fill="#77ae8c"/><use href="#b" x="660" y="936" width="22" height="22" fill="#77ae8c"/><use href="#b" x="682" y="936" width="22" height="22" fill="#77ae8c"/><use href="#b" x="704" y="936" width="22" height="22" fill="#77ae8c"/><use href="#b" x="726" y="936" width="22" height="22" fill="#77ae8c"/><use href="#b" x="154" y="964" width="22" height="22" fill="#77ae8c"/><use href="#b" x="176" y="964" width="22" height="22" fill="#77ae8c"/><g font-family="Liberation Sans, sans-serif" font-size="11" fill="#4e585d" text-anchor="middle"><path d="M10.85,7.0 L12.10,7.0 L12.10,15.0 L10.85,15.0 L10.85,8.9 C10.35,9.4 9.65,9.7 8.85,9.9 L8.85,8.95 C9.75,8.6 10.45,7.9 10.85,7.0 Z" fill="#4e585d"/><text x="32.55" y="15">2</text><text x="54.55" y="15">3</text><text x="76.55" y="15">4</text><text x="98.55" y="15">5</text><text x="120.55" y="15">6</text><text x="142.55" y="15">7</text><text x="164.55" y="15">8</text><text x="186.55" y="15">9</text><path d="M205.75,7.0 L207.00,7.0 L207.00,15.0 L205.75,15.0 L205.75,8.9 C205.25,9.4 204.55,9.7 203.75,9.9 L203.75,8.95 C204.65,8.6 205.35,7.9 205.75,7.0 Z" fill="#4e585d"/><text x="211.35" y="15">0</text><path d="M227.75,7.0 L229.00,7.0 L229.00,15.0 L227.75,15.0 L227.75,8.9 C227.25,9.4 226.55,9.7 225.75,9.9 L225.75,8.95 C226.65,8.6 227.35,7.9 227.75,7.0 Z" fill="#4e585d"/><path d="M232.90,7.0 L234.15,7.0 L234.15,15.0 L232.90,15.0 L232.90,8.9 C232.40,9.4 231.70,9.7 230.90,9.9 L230.90,8.95 C231.80,8.6 232.50,7.9 232.90,7.0 Z" fill="#4e585d"/><path d="M249.75,7.0 L251.00,7.0 L251.00,15.0 L249.75,15.0 L249.75,8.9 C249.25,9.4 248.55,9.7 247.75,9.9 L247.75,8.95 C248.65,8.6 249.35,7.9 249.75,7.0 Z" fill="#4e585d"/><text x="255.35" y="15">2</text><path d="M271.75,7.0 L273.00,7.0 L273.00,15.0 L271.75,15.0 L271.75,8.9 C271.25,9.4 270.55,9.7 269.75,9.9 L269.75,8.95 C270.65,8.6 271.35,7.9 271.75,7.0 Z" fill="#4e585d"/><text x="277.35" y="15">3</text><path d="M293.75,7.0 L295.00,7.0 L295.00,15.0 L293.75,15.0 L293.75,8.9 C293.25,9.4 292.55,9.7 291.75,9.9 L291.75,8.95 C292.65,8.6 293.35,7.9 293.75,7.0 Z" fill="#4e585d"/><text x="299.35" y="15">4</text><path d="M315.75,7.0 L317.00,7.0 L317.00,15.0 L315.75,15.0 L315.75,8.9 C315.25,9.4 314.55,9.7 313.75,9.9 L313.75,8.95 C314.65,8.6 315.35,7.9 315.75,7.0 Z" fill="#4e585d"/><text x="321.35" y="15">5</text><path d="M337.75,7.0 L339.00,7.0 L339.00,15.0 L337.75,15.0 L337.75,8.9 C337.25,9.4 336.55,9.7 335.75,9.9 L335.75,8.95 C336.65,8.6 337.35,7.9 337.75,7.0 Z" fill="#4e585d"/><text x="343.35" y="15">6</text><path d="M359.75,7.0 L361.00,7.0 L361.00,15.0 L359.75,15.0 L359.75,8.9 C359.25,9.4 358.55,9.7 357.75,9.9 L357.75,8.95 C358.65,8.6 359.35,7.9 359.75,7.0 Z" fill="#4e585d"/><text x="365.35" y="15">7</text><path d="M381.75,7.0 L383.00,7.0 L383.00,15.0 L381.75,15.0 L381.75,8.9 C381.25,9.4 380.55,9.7 379.75,9.9 L379.75,8.95 C380.65,8.6 381.35,7.9 381.75,7.0 Z" fill="#4e585d"/><text x="387.35" y="15">8</text><path d="M403.75,7.0 L405.00,7.0 L405.00,15.0 L403.75,15.0 L403.75,8.9 C403.25,9.4 402.55,9.7 401.75,9.9 L401.75,8.95 C402.65,8.6 403.35,7.9 403.75,7.0 Z" fill="#4e585d"/><text x="409.35" y="15">9</text><text x="425.40" y="15">2</text><text x="430.50" y="15">0</text><text x="447.40" y="15">2</text><path d="M452.20,7.0 L453.45,7.0 L453.45,15.0 L452.20,15.0 L452.20,8.9 C451.70,9.4 451.00,9.7 450.20,9.9 L450.20,8.95 C451.10,8.6 451.80,7.9 452.20,7.0 Z" fill="#4e585d"/><text x="469.40" y="15">2</text><text x="474.50" y="15">2</text><text x="491.40" y="15">2</text><text x="496.50" y="15">3</text><text x="513.40" y="15">2</text><text x="518.50" y="15">4</text><text x="535.40" y="15">2</text><text x="540.50" y="15">5</text><text x="557.40" y="15">2</text><text x="562.50" y="15">6</text><text x="579.40" y="15">2</text><text x="584.50" y="15">7</text><text x="601.40" y="15">2</text><text x="606.50" y="15">8</text><text x="623.40" y="15">2</text><text x="628.50" y="15">9</text><text x="645.40" y="15">3</text><text x="650.50" y="15">0</text><text x="667.40" y="15">3</text><path d="M672.20,7.0 L673.45,7.0 L673.45,15.0 L672.20,15.0 L672.20,8.9 C671.70,9.4 671.00,9.7 670.20,9.9 L670.20,8.95 C671.10,8.6 671.80,7.9 672.20,7.0 Z" fill="#4e585d"/><text x="689.40" y="15">3</text><text x="694.50" y="15">2</text><text x="711.40" y="15">3</text><text x="716.50" y="15">3</text><text x="733.40" y="15">3</text><text x="738.50" y="15">4</text><text x="755.40" y="15">3</text><text x="760.50" y="15">5</text><text x="777.40" y="15">3</text><text x="782.50" y="15">6</text><text x="799.40" y="15">3</text><text x="804.50" y="15">7</text><text x="821.40" y="15">3</text><text x="826.50" y="15">8</text><text x="843.40" y="15">3</text><text x="848.50" y="15">9</text></g><rect x="296.4" y="29" width="1.75" height="7.9" fill="#ab7599"/><rect x="318.4" y="29" width="1.75" height="7.9" fill="#ab7599"/><rect x="340.4" y="29" width="1.75" height="7.9" fill="#ab7599"/><rect x="362.4" y="29" width="1.75" height="7.9" fill="#ab7599"/><rect x="384.4" y="29" width="1.75" height="7.9" fill="#ab7599"/><rect x="406.4" y="29" width="1.75" height="7.9" fill="#ab7599"/><rect x="428.4" y="29" width="1.75" height="7.9" fill="#ab7599"/><use href="#b" x="440" y="22" width="22" height="22" fill="#67c256"/><text x="451.3" y="37" font-family="Liberation Sans, sans-serif" font-weight="bold" font-size="12" fill="#fff" text-anchor="middle">w</text><use href="#b" x="462" y="22" width="22" height="22" fill="#67c256"/><text x="473.6" y="36.5" font-family="Liberation Sans, sans-serif" font-weight="bold" font-size="11.5" fill="#fff" text-anchor="middle">r</text><use href="#b" x="484" y="22" width="22" height="22" fill="#67c256"/><text x="495.6" y="36.5" font-family="Liberation Sans, sans-serif" font-weight="bold" font-size="11.5" fill="#fff" text-anchor="middle">r</text><use href="#b" x="506" y="22" width="22" height="22" fill="#67c256"/><text x="517.6" y="36.5" font-family="Liberation Sans, sans-serif" font-weight="bold" font-size="11.5" fill="#fff" text-anchor="middle">r</text><use href="#b" x="528" y="22" width="22" height="22" fill="#67c256"/><text x="539.6" y="36.5" font-family="Liberation Sans, sans-serif" font-weight="bold" font-size="11.5" fill="#fff" text-anchor="middle">r</text><use href="#b" x="726" y="154" width="22" height="22" fill="#67c256"/><rect x="735" y="161.8" width="1.2" height="6.9" fill="#fff"/><rect x="738.1" y="161.8" width="1.2" height="6.9" fill="#fff"/><path transform="translate(8.5,52.5)" d="M0,-3.6 C1.2,-1.8 2.6,-0.4 2.6,1.2 C2.6,2.6 1.4,3.6 0,3.6 C-1.4,3.6 -2.6,2.6 -2.6,1.2 C-2.6,-0.4 -1.2,-1.8 0,-3.6 Z" fill="#de5d59"/><path transform="translate(14.6,52.5)" d="M0,-3.6 C1.2,-1.8 2.6,-0.4 2.6,1.2 C2.6,2.6 1.4,3.6 0,3.6 C-1.4,3.6 -2.6,2.6 -2.6,1.2 C-2.6,-0.4 -1.2,-1.8 0,-3.6 Z" fill="#de5d59"/><path transform="translate(11.6,58.5)" d="M0,-3.6 C1.2,-1.8 2.6,-0.4 2.6,1.2 C2.6,2.6 1.4,3.6 0,3.6 C-1.4,3.6 -2.6,2.6 -2.6,1.2 C-2.6,-0.4 -1.2,-1.8 0,-3.6 Z" fill="#de5d59"/><path transform="translate(30.5,55.3)" d="M0,-3.6 C1.2,-1.8 2.6,-0.4 2.6,1.2 C2.6,2.6 1.4,3.6 0,3.6 C-1.4,3.6 -2.6,2.6 -2.6,1.2 C-2.6,-0.4 -1.2,-1.8 0,-3.6 Z" fill="#de5d59"/><path transform="translate(36.4,55.3)" d="M0,-3.6 C1.2,-1.8 2.6,-0.4 2.6,1.2 C2.6,2.6 1.4,3.6 0,3.6 C-1.4,3.6 -2.6,2.6 -2.6,1.2 C-2.6,-0.4 -1.2,-1.8 0,-3.6 Z" fill="#de5d59"/><path transform="translate(55.5,55.3)" d="M0,-3.6 C1.2,-1.8 2.6,-0.4 2.6,1.2 C2.6,2.6 1.4,3.6 0,3.6 C-1.4,3.6 -2.6,2.6 -2.6,1.2 C-2.6,-0.4 -1.2,-1.8 0,-3.6 Z" fill="#de5d59"/><path transform="translate(77.5,55.3)" d="M0,-3.6 C1.2,-1.8 2.6,-0.4 2.6,1.2 C2.6,2.6 1.4,3.6 0,3.6 C-1.4,3.6 -2.6,2.6 -2.6,1.2 C-2.6,-0.4 -1.2,-1.8 0,-3.6 Z" fill="#de5d59"/><path transform="translate(99.5,55.3)" d="M0,-3.6 C1.2,-1.8 2.6,-0.4 2.6,1.2 C2.6,2.6 1.4,3.6 0,3.6 C-1.4,3.6 -2.6,2.6 -2.6,1.2 C-2.6,-0.4 -1.2,-1.8 0,-3.6 Z" fill="#de5d59"/><circle cx="121.3" cy="55.5" r="3.6" fill="#de5d59"/><path transform="translate(99.2,94.8) scale(1.0)" d="M0,3.9 L-3.6,0.3 C-4.6,-0.7 -4.6,-2.4 -3.5,-3.3 C-2.5,-4.1 -1,-3.9 0,-2.7 C1,-3.9 2.5,-4.1 3.5,-3.3 C4.6,-2.4 4.6,-0.7 3.6,0.3 Z" fill="#de5880"/><path transform="translate(341.2,94.8) scale(1.0)" d="M0,3.9 L-3.6,0.3 C-4.6,-0.7 -4.6,-2.4 -3.5,-3.3 C-2.5,-4.1 -1,-3.9 0,-2.7 C1,-3.9 2.5,-4.1 3.5,-3.3 C4.6,-2.4 4.6,-0.7 3.6,0.3 Z" fill="#de5880"/><path transform="translate(517.2,94.8) scale(1.0)" d="M0,3.9 L-3.6,0.3 C-4.6,-0.7 -4.6,-2.4 -3.5,-3.3 C-2.5,-4.1 -1,-3.9 0,-2.7 C1,-3.9 2.5,-4.1 3.5,-3.3 C4.6,-2.4 4.6,-0.7 3.6,0.3 Z" fill="#de5880"/><path transform="translate(671.2,94.8) scale(1.0)" d="M0,3.9 L-3.6,0.3 C-4.6,-0.7 -4.6,-2.4 -3.5,-3.3 C-2.5,-4.1 -1,-3.9 0,-2.7 C1,-3.9 2.5,-4.1 3.5,-3.3 C4.6,-2.4 4.6,-0.7 3.6,0.3 Z" fill="#de5880"/><path transform="translate(165.2,104) scale(1.0)" d="M0,3.9 L-3.6,0.3 C-4.6,-0.7 -4.6,-2.4 -3.5,-3.3 C-2.5,-4.1 -1,-3.9 0,-2.7 C1,-3.9 2.5,-4.1 3.5,-3.3 C4.6,-2.4 4.6,-0.7 3.6,0.3 Z" fill="#de5880"/><path transform="translate(187.2,104) scale(1.0)" d="M0,3.9 L-3.6,0.3 C-4.6,-0.7 -4.6,-2.4 -3.5,-3.3 C-2.5,-4.1 -1,-3.9 0,-2.7 C1,-3.9 2.5,-4.1 3.5,-3.3 C4.6,-2.4 4.6,-0.7 3.6,0.3 Z" fill="#de5880"/><path transform="translate(209.2,104) scale(1.0)" d="M0,3.9 L-3.6,0.3 C-4.6,-0.7 -4.6,-2.4 -3.5,-3.3 C-2.5,-4.1 -1,-3.9 0,-2.7 C1,-3.9 2.5,-4.1 3.5,-3.3 C4.6,-2.4 4.6,-0.7 3.6,0.3 Z" fill="#de5880"/><path transform="translate(297.2,104) scale(1.0)" d="M0,3.9 L-3.6,0.3 C-4.6,-0.7 -4.6,-2.4 -3.5,-3.3 C-2.5,-4.1 -1,-3.9 0,-2.7 C1,-3.9 2.5,-4.1 3.5,-3.3 C4.6,-2.4 4.6,-0.7 3.6,0.3 Z" fill="#de5880"/><path transform="translate(473.2,104) scale(1.0)" d="M0,3.9 L-3.6,0.3 C-4.6,-0.7 -4.6,-2.4 -3.5,-3.3 C-2.5,-4.1 -1,-3.9 0,-2.7 C1,-3.9 2.5,-4.1 3.5,-3.3 C4.6,-2.4 4.6,-0.7 3.6,0.3 Z" fill="#de5880"/><path transform="translate(539.2,104) scale(1.0)" d="M0,3.9 L-3.6,0.3 C-4.6,-0.7 -4.6,-2.4 -3.5,-3.3 C-2.5,-4.1 -1,-3.9 0,-2.7 C1,-3.9 2.5,-4.1 3.5,-3.3 C4.6,-2.4 4.6,-0.7 3.6,0.3 Z" fill="#de5880"/><path transform="translate(253.6,96.6) scale(0.8)" d="M0,3.9 L-3.6,0.3 C-4.6,-0.7 -4.6,-2.4 -3.5,-3.3 C-2.5,-4.1 -1,-3.9 0,-2.7 C1,-3.9 2.5,-4.1 3.5,-3.3 C4.6,-2.4 4.6,-0.7 3.6,0.3 Z" fill="#de5880"/><path transform="translate(253.6,102.8) scale(0.8)" d="M0,3.9 L-3.6,0.3 C-4.6,-0.7 -4.6,-2.4 -3.5,-3.3 C-2.5,-4.1 -1,-3.9 0,-2.7 C1,-3.9 2.5,-4.1 3.5,-3.3 C4.6,-2.4 4.6,-0.7 3.6,0.3 Z" fill="#de5880"/></svg>
</body></html>
